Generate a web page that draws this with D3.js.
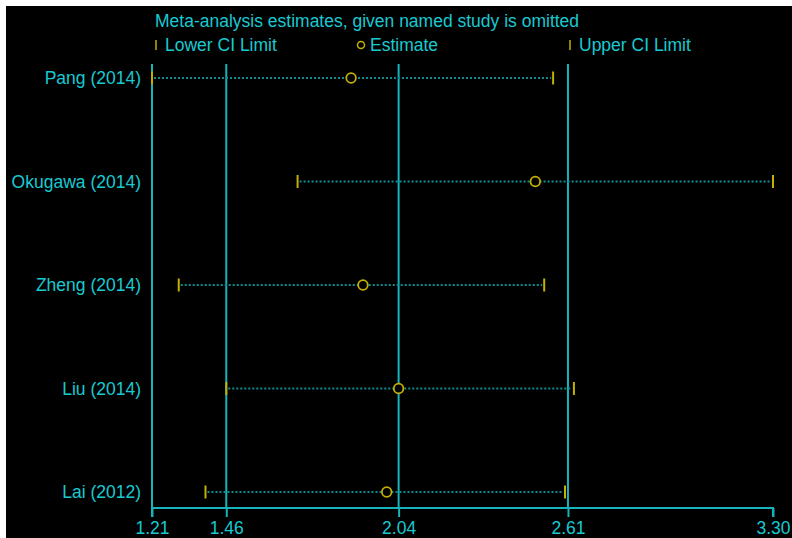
<!DOCTYPE html>
<html>
<head>
<meta charset="utf-8">
<script src="https://cdn.jsdelivr.net/npm/d3@7"></script>
<style>
  html, body { margin: 0; padding: 0; background: #fff; }
  svg { display: block; }
  text { font-family: "Liberation Sans", Arial, sans-serif; }
</style>
</head>
<body>
<div id="chart"></div>
<script>
// estudos omitidos, de cima para baixo
const studies = ['Pang (2014)', 'Okugawa (2014)', 'Zheng (2014)', 'Liu (2014)', 'Lai (2012)'];
const lowerCI = [1.21, 1.70, 1.30, 1.46, 1.39];
const estimate = [1.88, 2.50, 1.92, 2.04, 2.00];
const upperCI = [2.56, 3.30, 2.53, 2.63, 2.60];
const tickValues = [1.21, 1.46, 2.04, 2.61, 3.30];
const refLines = [1.21, 1.46, 2.04, 2.61];

const W = 792, H = 538, FS = 17.5;
const TEXT = '#19c9d2', LINE = '#17b3bb', DOT = '#0f8c90', YEL = '#c4b000';

const svg = d3.select('#chart').append('svg').attr('width', W).attr('height', H);
svg.append('rect').attr('x', 6).attr('y', 6).attr('width', W - 6).attr('height', H - 6).attr('fill', '#000');

const x = d3.scaleLinear().domain([1.21, 3.30]).range([152, 773]);
const y = d3.scalePoint().domain(studies).range([78, 492]);
const axisY = 508, topY = 64;

// linhas verticais de referencia
svg.append('g').selectAll('line').data(refLines).join('line')
  .attr('x1', (d) => x(d)).attr('x2', (d) => x(d))
  .attr('y1', topY).attr('y2', axisY)
  .attr('stroke', LINE).attr('stroke-width', 2);

// eixo x
const axis = d3.axisBottom(x).tickValues(tickValues).tickFormat(d3.format('.2f')).tickSize(9).tickPadding(5);
const ag = svg.append('g').attr('transform', `translate(0,${axisY})`).call(axis);
ag.select('.domain').attr('stroke', LINE).attr('stroke-width', 2).attr('d', `M${x(1.21)},9V0H${x(3.30)}V9`);
ag.selectAll('.tick line').attr('stroke', LINE).attr('stroke-width', 2);
ag.selectAll('.tick text').attr('fill', TEXT).attr('font-size', FS).attr('font-family', '"Liberation Sans", Arial, sans-serif');

// linhas pontilhadas do IC
const rows = svg.append('g').selectAll('g').data(studies).join('g')
  .attr('transform', (d) => `translate(0,${y(d)})`);
rows.append('line')
  .attr('x1', (d, i) => x(lowerCI[i]) + 2).attr('x2', (d, i) => x(upperCI[i]) - 2)
  .attr('stroke', DOT).attr('stroke-width', 2).attr('stroke-dasharray', '2,2');
rows.append('line')
  .attr('x1', (d, i) => x(lowerCI[i])).attr('x2', (d, i) => x(lowerCI[i]))
  .attr('y1', -6.5).attr('y2', 6.5).attr('stroke', YEL).attr('stroke-width', 2);
rows.append('line')
  .attr('x1', (d, i) => x(upperCI[i])).attr('x2', (d, i) => x(upperCI[i]))
  .attr('y1', -6.5).attr('y2', 6.5).attr('stroke', YEL).attr('stroke-width', 2);
rows.append('circle')
  .attr('cx', (d, i) => x(estimate[i])).attr('r', 4.8)
  .attr('fill', '#000').attr('stroke', YEL).attr('stroke-width', 1.8);
rows.append('text')
  .attr('x', 141).attr('dy', '0.35em').attr('text-anchor', 'end')
  .attr('fill', TEXT).attr('font-size', FS).text((d) => d);

// titulo + legenda
svg.append('text').attr('x', 155).attr('y', 27).attr('fill', TEXT).attr('font-size', FS)
  .text('Meta-analysis estimates, given named study is omitted');
const leg = svg.append('g').attr('transform', 'translate(0,45)');
leg.append('line').attr('x1', 156).attr('x2', 156).attr('y1', -5).attr('y2', 5).attr('stroke', YEL).attr('stroke-width', 1.5);
leg.append('text').attr('x', 165).attr('dy', '0.35em').attr('fill', TEXT).attr('font-size', FS).text('Lower CI Limit');
leg.append('circle').attr('cx', 361).attr('r', 3.5).attr('fill', 'none').attr('stroke', YEL).attr('stroke-width', 1.5);
leg.append('text').attr('x', 370).attr('dy', '0.35em').attr('fill', TEXT).attr('font-size', FS).text('Estimate');
leg.append('line').attr('x1', 570).attr('x2', 570).attr('y1', -5).attr('y2', 5).attr('stroke', YEL).attr('stroke-width', 1.5);
leg.append('text').attr('x', 579).attr('dy', '0.35em').attr('fill', TEXT).attr('font-size', FS).text('Upper CI Limit');
</script>
</body>
</html>
